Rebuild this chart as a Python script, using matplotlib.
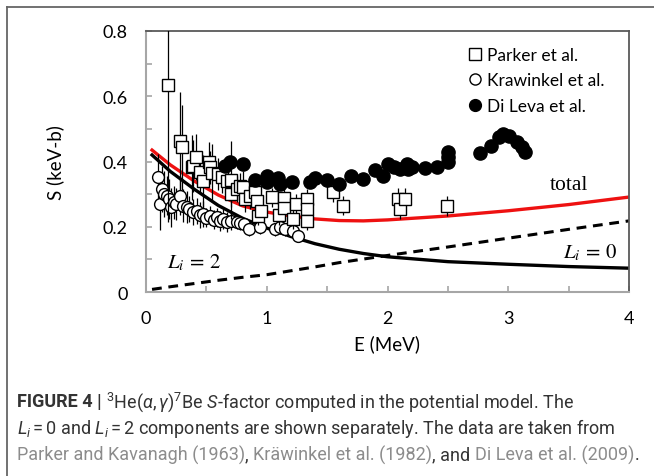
# %%
import matplotlib
matplotlib.use("Agg")
import matplotlib.pyplot as plt
from matplotlib.lines import Line2D
from matplotlib.ticker import MultipleLocator

# %%
# model curves
E_curve = [0.05, 0.2, 0.4, 0.6, 0.8, 1.0, 1.2, 1.4, 1.6, 1.8, 2.0, 2.5, 3.0, 3.5, 4.0]
S_total = [0.435, 0.39, 0.34, 0.297, 0.264, 0.245, 0.233, 0.224, 0.219, 0.218, 0.221,
           0.233, 0.249, 0.268, 0.291]
S_L2 = [0.42, 0.37, 0.315, 0.265, 0.226, 0.196, 0.17, 0.148, 0.131, 0.118, 0.108,
        0.093, 0.085, 0.078, 0.073]
S_L0 = [0.008, 0.016, 0.026, 0.036, 0.045, 0.053, 0.065, 0.077, 0.09, 0.101, 0.112,
        0.138, 0.165, 0.192, 0.218]

# Parker and Kavanagh (1963)
parker_E = [0.18, 0.28, 0.295, 0.38, 0.39, 0.41, 0.45, 0.475, 0.52, 0.53, 0.545, 0.60,
            0.63, 0.67, 0.70, 0.70, 0.75, 0.78, 0.80, 0.82, 0.86, 0.90, 0.92, 0.93, 0.95,
            1.04, 1.10, 1.14, 1.14, 1.22, 1.24, 1.33, 1.33, 1.33, 1.55, 1.63, 2.09, 2.10,
            2.145, 2.49]
parker_S = [0.635, 0.464, 0.444, 0.382, 0.387, 0.414, 0.367, 0.341, 0.40, 0.382, 0.365,
            0.362, 0.352, 0.341, 0.344, 0.30, 0.316, 0.326, 0.321, 0.285, 0.295, 0.306,
            0.28, 0.234, 0.249, 0.29, 0.236, 0.288, 0.258, 0.224, 0.27, 0.285, 0.254,
            0.219, 0.306, 0.265, 0.285, 0.254, 0.285, 0.263]
parker_err = [0.42, 0.15, 0.13, 0.10, 0.08, 0.07, 0.06, 0.08, 0.06, 0.05, 0.09, 0.05,
              0.05, 0.05, 0.12, 0.04, 0.04, 0.04, 0.05, 0.04, 0.04, 0.04, 0.03, 0.03,
              0.03, 0.03, 0.03, 0.03, 0.03, 0.03, 0.03, 0.03, 0.03, 0.03, 0.03, 0.03,
              0.035, 0.03, 0.035, 0.03]

# Krawinkel et al. (1982)
kraw_E = [0.10, 0.116, 0.13, 0.15, 0.17, 0.19, 0.21, 0.23, 0.25, 0.28, 0.31, 0.34, 0.36,
          0.39, 0.42, 0.45, 0.475, 0.50, 0.53, 0.56, 0.585, 0.61, 0.64, 0.67, 0.70, 0.75,
          0.78, 0.81, 0.85, 0.94, 1.07, 1.11, 1.15, 1.22, 1.26]
kraw_S = [0.352, 0.27, 0.316, 0.30, 0.295, 0.285, 0.26, 0.275, 0.27, 0.295, 0.265, 0.26,
          0.254, 0.245, 0.249, 0.235, 0.239, 0.228, 0.234, 0.222, 0.229, 0.218, 0.224,
          0.215, 0.219, 0.214, 0.21, 0.208, 0.193, 0.198, 0.193, 0.198, 0.193, 0.188,
          0.173]
kraw_err = [0.07, 0.08, 0.07, 0.07, 0.06, 0.06, 0.06, 0.05, 0.05, 0.06, 0.05, 0.05, 0.04,
            0.04, 0.04, 0.04, 0.04, 0.03, 0.03, 0.03, 0.03, 0.03, 0.03, 0.03, 0.03, 0.02,
            0.02, 0.02, 0.02, 0.02, 0.02, 0.02, 0.02, 0.02, 0.02]

# Di Leva et al. (2009)
dileva_E = [0.654, 0.696, 0.806, 0.903, 1.0, 1.0, 1.096, 1.11, 1.207, 1.358, 1.40, 1.50,
            1.60, 1.70, 1.80, 1.896, 1.96, 2.007, 2.05, 2.10, 2.16, 2.17, 2.20, 2.31,
            2.41, 2.50, 2.50, 2.50, 2.766, 2.86, 2.92, 2.96, 3.01, 3.07, 3.11, 3.14]
dileva_S = [0.387, 0.40, 0.392, 0.344, 0.357, 0.336, 0.348, 0.331, 0.336, 0.336, 0.348,
            0.343, 0.331, 0.357, 0.346, 0.375, 0.357, 0.392, 0.382, 0.377, 0.392, 0.377,
            0.382, 0.379, 0.382, 0.428, 0.415, 0.40, 0.425, 0.447, 0.474, 0.484, 0.479,
            0.459, 0.444, 0.43]

legend_labels = ["Parker et al.", "Krawinkel et al.", "Di Leva et al."]
y_ticks = [0, 0.2, 0.4, 0.6, 0.8]
y_ticklabels = ["0", "0.2", "0.4", "0.6", "0.8"]

# %%
W, H = 654, 477
fig = plt.figure(figsize=(W / 100, H / 100), dpi=100)
ax = fig.add_axes([146 / W, 1 - 293 / H, 483 / W, 261 / H])

# outer journal frame
fig.add_artist(Line2D([7 / W, 7 / W], [0, 1 - 8 / H], transform=fig.transFigure,
                      color="#666666", lw=1.3))
fig.add_artist(Line2D([7 / W, 1], [1 - 8 / H, 1 - 8 / H], transform=fig.transFigure,
                      color="#666666", lw=1.3))

ax.plot(E_curve, S_L0, color="black", lw=2.2, ls=(0, (3.2, 2.2)), zorder=2)
ax.plot(E_curve, S_L2, color="black", lw=2.4, zorder=2)
ax.plot(E_curve, S_total, color="#ee1111", lw=2.4, zorder=2)

ax.errorbar(kraw_E, kraw_S, yerr=kraw_err, fmt="o", ms=8.5, mfc="white", mec="black",
            mew=1.0, ecolor="black", elinewidth=0.9, capsize=0, zorder=3)
ax.errorbar(parker_E, parker_S, yerr=parker_err, fmt="s", ms=9, mfc="white", mec="black",
            mew=1.0, ecolor="black", elinewidth=0.9, capsize=0, zorder=4)
ax.plot(dileva_E, dileva_S, "o", ms=9.5, color="black", zorder=5)

ax.set_xlim(0, 4)
ax.set_ylim(0, 0.8)
ax.xaxis.set_major_locator(MultipleLocator(1))
ax.xaxis.set_minor_locator(MultipleLocator(0.5))
ax.set_yticks(y_ticks, y_ticklabels)
ax.yaxis.set_minor_locator(MultipleLocator(0.1))
ax.tick_params(which="both", direction="in", length=4, width=1.2, color="#a6a6a6",
               labelsize=13, pad=13)
for lab in ax.get_xticklabels() + ax.get_yticklabels():
    lab.set_family("Lato")
for side in ["left", "bottom"]:
    ax.spines[side].set_color("#a6a6a6")
    ax.spines[side].set_linewidth(1.5)
for side in ["top", "right"]:
    ax.spines[side].set_color("#595959")
    ax.spines[side].set_linewidth(1.3)

ax.set_xlabel("E (MeV)", family="Lato", fontsize=13.5, labelpad=6)
ax.set_ylabel("S (keV-b)", family="Lato", fontsize=13.5, labelpad=28)

handles = [
    Line2D([], [], marker="s", ls="none", mfc="white", mec="black", ms=8, mew=1.0),
    Line2D([], [], marker="o", ls="none", mfc="white", mec="black", ms=8, mew=1.0),
    Line2D([], [], marker="o", ls="none", color="black", ms=8.5),
]
ax.legend(handles, legend_labels, loc="upper left", bbox_to_anchor=(0.668, 0.94),
          frameon=False, handlelength=0.7, handletextpad=0.35, labelspacing=0.55,
          borderpad=0, borderaxespad=0, prop={"family": "Lato", "size": 12.5})

ax.text(3.345, 0.316, "total", family="Liberation Serif", fontsize=15.5)
ax.text(3.45, 0.107, "$L_i\\,=\\,0$", fontsize=15, math_fontfamily="stix")
ax.text(0.17, 0.076, "$L_i\\,=\\,2$", fontsize=15, math_fontfamily="stix")

# %%
# caption
plt.rcParams["mathtext.fontset"] = "custom"
plt.rcParams["mathtext.rm"] = "Roboto"
plt.rcParams["mathtext.it"] = "Roboto:italic"
plt.rcParams["mathtext.bf"] = "Roboto:bold"

dark, link = "#333333", "#8c8c8c"
caption = [
    (402, [("FIGURE 4 |", dark, "bold", False),
           ("$^{3}$He($\\alpha,\\gamma$)$^{7}$Be $S$-factor computed in the potential model. The",
            dark, "normal", True)]),
    (428.5, [("$L_i = 0$ and $L_i = 2$ components are shown separately. The data are taken from",
              dark, "normal", False)]),
    (455, [("Parker and Kavanagh (1963)", link, "normal", False),
           (",", dark, "normal", False),
           ("Kräwinkel et al. (1982)", link, "normal", True),
           (", and", dark, "normal", False),
           ("Di Leva et al. (2009)", link, "normal", True),
           (".", dark, "normal", False)]),
]

renderer = fig.canvas.get_renderer()


def draw_caption(size):
    made = []
    probe1 = fig.text(0, 0, "a a", family="Roboto", fontsize=size)
    probe2 = fig.text(0, 0, "aa", family="Roboto", fontsize=size)
    space = (probe1.get_window_extent(renderer).width
             - probe2.get_window_extent(renderer).width)
    probe1.remove()
    probe2.remove()
    ends = []
    for y, pieces in caption:
        x = 17
        for s, col, wt, gap in pieces:
            if gap:
                x += space
            t = fig.text(x / W, 1 - y / H, s, family="Roboto", fontsize=size, color=col,
                         weight=wt, va="center", ha="left")
            made.append(t)
            x += t.get_window_extent(renderer).width
        ends.append(x)
    return made, ends


size = 12
made, ends = draw_caption(size)
for t in made:
    t.remove()
size = size * (637 - 17) / (ends[2] - 17)
draw_caption(size)

plt.savefig("out.png", dpi=100)
